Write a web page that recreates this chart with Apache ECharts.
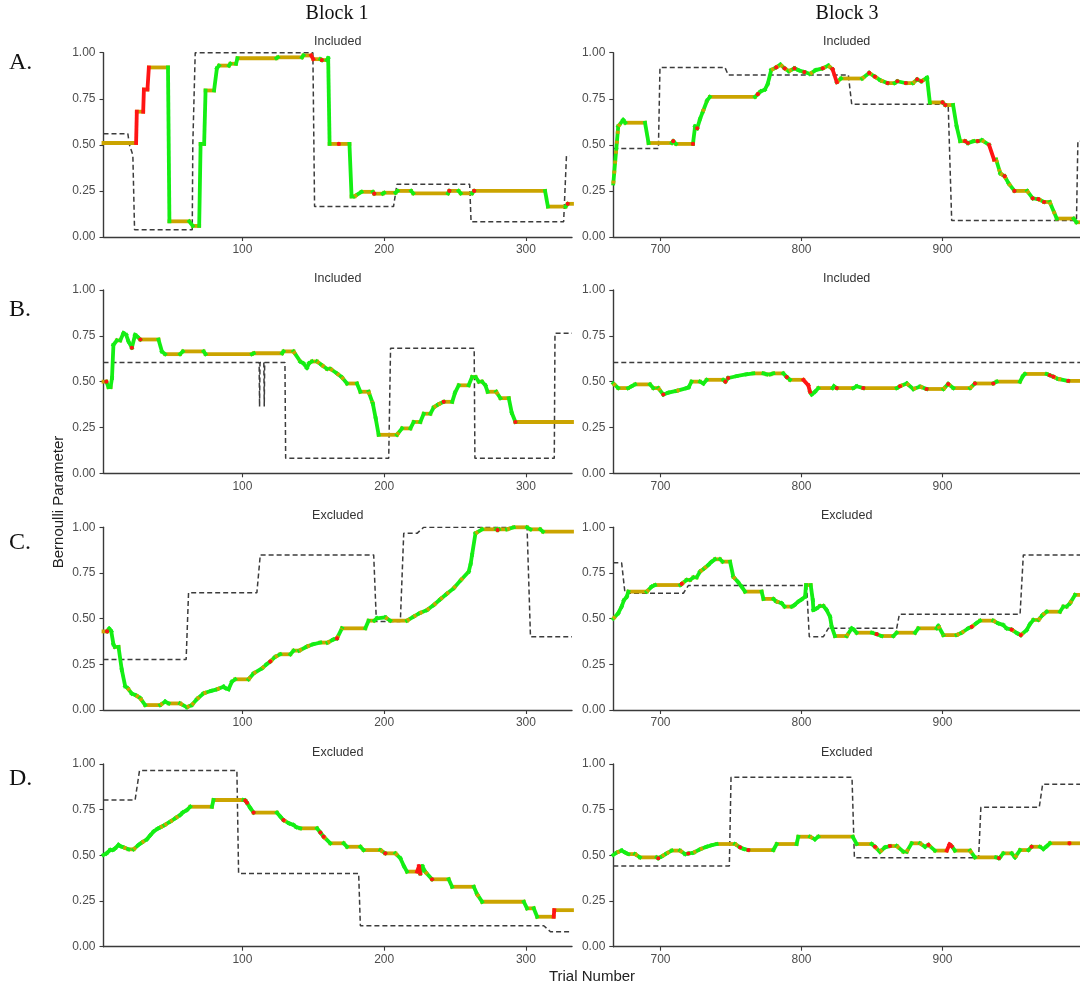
<!DOCTYPE html>
<html><head><meta charset="utf-8">
<script src="https://cdn.jsdelivr.net/npm/echarts@6/dist/echarts.min.js"></script>
<style>html,body{margin:0;padding:0;background:#fff}#chart{width:1080px;height:989px}</style>
</head><body><div id="chart"></div>
<script>
// ---------- data ----------
const colTitles = ['Block 1', 'Block 3'];
const rowLabels = ['A.', 'B.', 'C.', 'D.'];
const stripLabels = ['Included', 'Included', 'Excluded', 'Excluded'];
const yTickValues = [0, 0.25, 0.5, 0.75, 1];
const xTicksBlock1 = [100, 200, 300];
const xTicksBlock3 = [700, 800, 900];
const xRangeBlock1 = [2, 332.5];
const xRangeBlock3 = [666.5, 997.5];
const yAxisTitle = 'Bernoulli Parameter';
const xAxisTitle = 'Trial Number';

// Estimated Bernoulli parameter (step path). [trial, value, flag]
// flag 'r' = red segment leading to this point, 'd' = red mark at this point
const estA1 = [[2,0.51],[25,0.51],[25.5,0.68,'r'],[30,0.68],[30.5,0.80,'r'],[33,0.80],[34,0.92,'r'],[47.5,0.92],[48.5,0.085],[62.5,0.085],[65,0.06],[69.5,0.06],[70.5,0.505],[73,0.505],[74,0.795],[80,0.795],[82,0.915],[83.5,0.93],[90.5,0.93],[91.5,0.94],[95.5,0.94],[96.5,0.97],[124,0.97],[125,0.975],[142,0.975],[143,0.985],[148.5,0.985],[150,0.965,'r'],[155,0.965],[156,0.96,'d'],[159.5,0.96],[160.5,0.97],[161.5,0.505],[168,0.505,'d'],[175.5,0.505],[177,0.22],[179,0.22],[184,0.245],[192,0.245],[193,0.235,'d'],[199,0.235],[200,0.24],[208,0.24],[209.5,0.25],[219,0.25],[220.5,0.237],[245,0.237],[246,0.25,'d'],[252.5,0.25],[254,0.237],[262,0.237],[263.5,0.25,'d'],[313.5,0.25],[315.5,0.165],[328,0.165],[329.5,0.18,'d'],[332.5,0.18]];
const estA3 = [[666.5,0.29],[670,0.60],[673.5,0.635],[675,0.62],[689,0.62],[691.5,0.51],[708,0.51],[709,0.52,'d'],[711,0.505],[723,0.505,'d'],[724.5,0.60],[726,0.59,'d'],[728,0.64],[730,0.68],[733,0.74],[735,0.76],[767,0.76],[769,0.775,'d'],[771,0.79],[774,0.80],[776,0.83],[778.5,0.906],[782,0.92,'d'],[785,0.935],[788,0.915,'d'],[791,0.90],[795,0.915,'d'],[798,0.905],[802,0.895,'d'],[806,0.885],[810,0.905],[815,0.915,'d'],[819,0.93],[822,0.91,'d'],[825,0.84,'r'],[828,0.86],[843,0.86],[848,0.89,'d'],[852,0.87,'d'],[856,0.85],[861,0.835,'d'],[866,0.835],[868,0.845,'d'],[874,0.835,'d'],[879,0.835],[882,0.855,'d'],[885,0.845,'d'],[889,0.865],[891,0.73],[900,0.73,'d'],[902,0.716,'d'],[907.5,0.716],[910,0.60],[912.5,0.52],[916,0.52,'d'],[918,0.51,'d'],[922,0.52],[925,0.52,'d'],[928,0.525],[933,0.50],[936.5,0.42,'r'],[938,0.42],[941,0.345],[944,0.33,'d'],[947,0.29],[951,0.25,'d'],[960,0.25],[964,0.21,'d'],[968,0.205,'d'],[972,0.19,'d'],[976,0.19],[981,0.10],[993,0.10],[995,0.08],[997.5,0.08]];
const estB1 = [[2,0.50],[4,0.50,'d'],[5.5,0.47],[7,0.47],[8,0.52],[9,0.70],[11.4,0.725],[13.8,0.725],[16.1,0.765],[18,0.755],[19.6,0.72],[22,0.685,'d'],[24.3,0.755],[26,0.745],[28,0.73,'d'],[40.8,0.73],[43.2,0.665],[45.5,0.65],[56,0.65],[58,0.665],[72.6,0.665],[74,0.65],[106.7,0.65],[108,0.655],[128,0.655],[129,0.665],[136,0.665],[140.8,0.61],[143,0.60],[145.5,0.575],[147,0.60],[149,0.61],[152.6,0.61],[156,0.59],[159.6,0.57],[162,0.57],[166.7,0.545],[170,0.525],[173.8,0.49],[180.8,0.49],[183.2,0.445],[189,0.445],[192,0.38],[194,0.30],[196.1,0.21],[209,0.21],[212.6,0.245],[218.5,0.245],[220.8,0.28],[225.5,0.28],[227.9,0.325],[232.6,0.325],[235,0.36],[238,0.375],[242,0.39,'d'],[248,0.39],[250,0.44],[252.6,0.48],[259.6,0.48],[262,0.525],[264.5,0.525],[266.7,0.50],[269,0.50],[271.4,0.48],[273,0.445],[279,0.445],[282,0.41],[287.9,0.41],[290,0.33],[292.6,0.28,'d'],[332.5,0.28]];
const estB3 = [[666.5,0.49],[670,0.465],[677,0.465],[679.5,0.475],[682,0.485],[692.5,0.485],[694.9,0.465],[698.4,0.465],[702,0.43,'d'],[705.5,0.44],[711.4,0.45],[718.5,0.465],[720,0.47],[722,0.50],[728,0.50],[730.4,0.49],[732.7,0.51],[744.5,0.51],[746,0.50,'d'],[748,0.52,'d'],[754,0.53],[761,0.54],[765.8,0.545],[773,0.545],[775.3,0.54],[778,0.54],[780,0.545],[787,0.545],[789.5,0.525,'d'],[791.8,0.51],[801.3,0.51],[804.8,0.48,'r'],[806,0.445,'r'],[807.2,0.43],[809.5,0.445],[811.9,0.465],[822,0.465],[823,0.475],[825,0.465,'d'],[836.7,0.465],[839.1,0.475],[843.8,0.465,'d'],[867.5,0.465],[869.8,0.475,'d'],[874.6,0.49],[879.3,0.46],[884,0.473],[888.7,0.46,'d'],[900.6,0.46],[904,0.487,'d'],[907.7,0.465],[919.5,0.465],[923,0.49,'d'],[936,0.49,'d'],[938.4,0.50],[954.9,0.50],[957,0.53],[958.5,0.542],[973.9,0.542],[976,0.535,'d'],[978.6,0.527,'d'],[982,0.515],[989.2,0.504,'d'],[997.5,0.504]];
const estC1 = [[2,0.43],[4.5,0.43,'d'],[6,0.445],[7.5,0.43],[9,0.36],[10,0.345],[12.6,0.345],[14.9,0.22],[17.3,0.13],[19,0.12],[22,0.09],[25,0.08],[27.9,0.065],[31.4,0.027],[42,0.027],[45.5,0.046],[48,0.036],[56,0.036],[60.8,0.015],[64.3,0.027],[68,0.06],[72.6,0.091],[78,0.105],[82,0.113],[86.7,0.128],[88,0.12],[90.2,0.113],[92.6,0.155],[94.9,0.168],[104.3,0.168],[107.9,0.20],[113.8,0.228],[117,0.25],[119.6,0.265,'d'],[123,0.29],[126.7,0.305],[133.8,0.305],[136.1,0.325],[140,0.325],[145.5,0.347],[150,0.36],[154.9,0.369],[160,0.369],[164,0.385],[166.7,0.392,'d'],[170.2,0.447],[186.7,0.447],[189,0.489],[193,0.489],[194.9,0.502],[200.8,0.507],[204.3,0.489],[216.1,0.489],[220.8,0.511],[225,0.53],[230.2,0.547],[235,0.575],[239.6,0.606],[244,0.635],[249,0.666],[254,0.71],[259.6,0.757],[261,0.80],[262,0.849],[264.4,0.967],[269.1,0.989],[279,0.989],[280,0.985,'d'],[281,0.989],[286.7,0.989],[291.4,1.0],[300.8,1.0],[303.2,0.989],[310,0.989],[312,0.976],[332.5,0.976]];
const estC3 = [[666.5,0.50],[670,0.53],[672.4,0.566],[674,0.60],[676,0.62],[677.2,0.648],[690.2,0.648],[693.7,0.675],[696.1,0.684],[714,0.684],[715,0.69,'d'],[718.5,0.712],[721,0.712],[723.3,0.726],[725.6,0.726],[728,0.757],[731,0.775],[733.9,0.794],[736,0.81],[738.6,0.825],[742.2,0.825],[744,0.812],[749.3,0.812],[751.6,0.73],[755,0.70],[757.5,0.675],[759.9,0.648],[771.7,0.648],[773,0.608],[780,0.608],[782,0.595],[785.9,0.584],[788,0.566],[793,0.566],[795,0.575],[797.7,0.593],[800,0.605],[802.5,0.62],[803.2,0.684],[806.5,0.684],[808,0.60],[808.4,0.547],[810.7,0.556],[813,0.569],[815.5,0.569],[817.8,0.547],[820.2,0.511],[821.4,0.456],[823.7,0.405],[832,0.405],[835.6,0.447],[837,0.44],[839.1,0.423],[850,0.423],[853.3,0.415,'d'],[856.8,0.405],[865.1,0.405],[867.5,0.423],[880.5,0.423],[882.8,0.447],[895.8,0.447],[897,0.46],[900.6,0.41],[910,0.41],[913.6,0.423],[918.3,0.447],[920.7,0.455,'d'],[924,0.475],[926.6,0.489],[936,0.489],[939.6,0.474],[943,0.465],[945.5,0.447],[949,0.44,'d'],[953,0.42],[955.5,0.41,'d'],[959.7,0.438],[962,0.47],[964.4,0.493],[968,0.493],[971,0.52],[973.9,0.538],[983.3,0.538],[985.7,0.566],[988,0.566],[990.4,0.584],[994,0.63],[997.5,0.63]];
const estD1 = [[2,0.502],[4,0.51],[6.7,0.529],[8.5,0.53],[10.2,0.538],[12.6,0.557],[14,0.55],[16.1,0.544],[19.6,0.533],[23.2,0.533],[26.7,0.557],[29,0.57],[32.6,0.588],[35,0.61],[37.3,0.63],[40,0.645],[42,0.653],[45,0.665],[49,0.684],[53,0.705],[56.1,0.721],[58,0.735],[60.8,0.748],[63.2,0.766],[78.5,0.766],[79.6,0.803],[100.8,0.803],[102,0.80,'d'],[103.2,0.788,'d'],[105.5,0.76],[107.9,0.734,'d'],[124.3,0.734],[127,0.71],[129,0.693,'d'],[133,0.675],[136.1,0.666],[138,0.655],[140.8,0.648],[152.6,0.648],[155,0.625,'d'],[157.3,0.602,'d'],[162,0.566],[171.4,0.566],[173.8,0.547],[183.2,0.547],[185.5,0.529],[197.3,0.529],[200.8,0.511,'d'],[207.9,0.511],[211.4,0.484],[214,0.44],[216.1,0.411],[223.2,0.411],[224.5,0.44,'r'],[225.5,0.40,'r'],[227,0.44],[229,0.41],[233.8,0.369,'d'],[245.5,0.369],[247.9,0.328],[263.2,0.328],[265.5,0.288],[269.1,0.246],[298.5,0.246],[300.8,0.21],[305.5,0.21],[307.9,0.164],[319.6,0.164],[320,0.20,'r'],[332.5,0.20]];
const estD3 = [[666.5,0.502],[669,0.515],[672.4,0.526],[675,0.515],[677.2,0.507],[681.9,0.507],[685.4,0.489],[697.3,0.489],[698.4,0.484,'d'],[701,0.495],[704.3,0.511],[707.9,0.526],[713.8,0.526],[717.4,0.507],[719.7,0.51,'d'],[723.3,0.515],[728,0.533],[732.7,0.547],[736,0.555],[739.8,0.562],[752.8,0.562],[756.4,0.544,'d'],[759,0.535],[762.3,0.529,'d'],[780,0.529],[782.4,0.562],[796.5,0.562],[797.7,0.602],[806,0.602],[809.5,0.588],[811.9,0.602],[836.3,0.602],[839.1,0.562],[849.7,0.562],[852.1,0.547,'d'],[855.6,0.52],[859.2,0.544],[862.7,0.551,'d'],[867.5,0.551],[872.2,0.52],[874.6,0.52],[878.1,0.566],[884,0.566],[887.6,0.547],[890,0.557,'d'],[894.6,0.526],[903,0.526],[905,0.56,'r'],[906.5,0.55,'r'],[908.8,0.526],[919.5,0.526],[923,0.489],[938,0.489],[940,0.485,'d'],[940.7,0.489],[943.1,0.511],[949,0.511],[951.4,0.489],[955,0.529],[960.9,0.529],[963.2,0.547,'d'],[969.1,0.547],[971.5,0.535],[973.9,0.55],[976.2,0.566],[990,0.566,'d'],[997.5,0.566]];

// True (generative) parameter, dashed line
const trueA1 = [[2,0.56],[19.2,0.56],[20.3,0.50],[22.7,0.445],[23.9,0.04],[64.6,0.04],[65,0.50],[66.7,1.0],[149.7,1.0],[150.9,0.165],[206.6,0.165],[209,0.286],[260.3,0.286],[261.3,0.083],[326.6,0.083],[328.6,0.441],[330.5,0.441]];
const trueA3 = [[666.5,0.48],[698.5,0.48],[699.6,0.92],[745.7,0.92],[748,0.879],[833.2,0.879],[835.6,0.72],[904,0.72],[906.5,0.089],[995,0.089],[996,0.52],[997.5,0.52]];
const trueB1 = [[2,0.605],[111.8,0.605],[112.1,0.364],[112.4,0.605],[115.1,0.605],[115.4,0.364],[115.7,0.605],[130,0.605],[130.5,0.082],[203.2,0.082],[204.5,0.682],[263.5,0.682],[264,0.082],[320,0.082],[320.5,0.764],[332.5,0.764]];
const trueB3 = [[666.5,0.605],[997.5,0.605]];
const trueC1 = [[2,0.277],[60.3,0.277],[62,0.642],[110.2,0.642],[112.6,0.849],[192.6,0.849],[194.5,0.484],[211.4,0.484],[213.8,0.967],[223.2,0.967],[227.9,1.0],[300.8,1.0],[303.2,0.401],[332.5,0.401]];
const trueC3 = [[666.5,0.806],[672.4,0.806],[674.8,0.639],[716.2,0.639],[719.7,0.681],[803.6,0.681],[805.5,0.401],[815.5,0.401],[819,0.447],[867.5,0.447],[869.4,0.524],[955,0.524],[957.3,0.849],[997.5,0.849]];
const trueD1 = [[2,0.803],[24.3,0.803],[27.4,0.964],[96.1,0.964],[97.3,0.401],[182,0.401],[183.2,0.115],[312.6,0.115],[317.3,0.082],[332.5,0.082]];
const trueD3 = [[666.5,0.442],[748.8,0.442],[750,0.927],[835.8,0.927],[837.5,0.487],[925.6,0.487],[927.2,0.763],[968.6,0.763],[971,0.889],[997.5,0.889]];

const estimates = [estA1, estA3, estB1, estB3, estC1, estC3, estD1, estD3];
const truths = [trueA1, trueA3, trueB1, trueB3, trueC1, trueC3, trueD1, trueD3];

// ---------- layout / style ----------
const GOLD = '#CBA400', GREEN = '#14EE14', RED = '#FF1414';
const SEG_COLORS = [GOLD, GREEN, RED, RED];
const rowTops = [52.7, 290, 527.3, 764];
const rowHeights = [184.3, 183.3, 182.7, 182.7];
const colLefts = [103.5, 613.3];
const colWidths = [468.5, 466.7];
const rowLabelY = [63, 310, 543, 779];
const AX = '#3a3a3a', TXT = '#4d4d4d';
const sans = '"Liberation Sans", Arial, sans-serif';
const serif = '"Liberation Serif", "Times New Roman", serif';

function makeSegs(pts) {
  const segs = [], dots = [];
  for (let i = 1; i < pts.length; i++) {
    const a = pts[i - 1], b = pts[i];
    const c = b[2] === 'r' ? 2 : (a[1] === b[1] ? 0 : 1);
    segs.push([a[0], a[1], b[0], b[1], c]);
    if (b[2] === 'd') dots.push([b[0], b[1], b[0], b[1], 3]);
  }
  segs.sort((p, q) => p[4] - q[4]);
  return segs.concat(dots);
}

const grids = [], xAxes = [], yAxes = [], series = [], graphics = [];
for (let r = 0; r < 4; r++) {
  for (let c = 0; c < 2; c++) {
    const i = r * 2 + c;
    grids.push({ left: colLefts[c], top: rowTops[r], width: colWidths[c], height: rowHeights[r], containLabel: false, outerBoundsMode: 'none' });
    const rng = c === 0 ? xRangeBlock1 : xRangeBlock3;
    const tks = c === 0 ? xTicksBlock1 : xTicksBlock3;
    xAxes.push({
      type: 'value', gridIndex: i, min: rng[0], max: rng[1],
      axisLine: { show: true, onZero: false, lineStyle: { color: AX, width: 1.4 } },
      axisTick: { show: true, length: 4, customValues: tks, lineStyle: { color: AX, width: 1.1 } },
      axisLabel: { show: true, customValues: tks, margin: 7, color: TXT, fontSize: 12, fontFamily: sans },
      splitLine: { show: false }
    });
    yAxes.push({
      type: 'value', gridIndex: i, min: 0, max: 1, interval: 0.25,
      axisLine: { show: true, lineStyle: { color: AX, width: 1.4 } },
      axisTick: { show: true, length: 4, lineStyle: { color: AX, width: 1.1 } },
      axisLabel: { show: true, margin: 8, color: TXT, fontSize: 12, fontFamily: sans, formatter: v => v.toFixed(2) },
      splitLine: { show: false }
    });
    series.push({
      type: 'line', xAxisIndex: i, yAxisIndex: i, data: truths[i], symbol: 'none', silent: true,
      animation: false, z: 2,
      lineStyle: { color: '#3c3c3c', width: 1.5, type: [5, 3] }
    });
    const segs = makeSegs(estimates[i]);
    series.push({
      type: 'custom', xAxisIndex: i, yAxisIndex: i, data: segs, animation: false, z: 3, silent: true,
      encode: { x: [0, 2], y: [1, 3] },
      renderItem: function (params, api) {
        const p0 = api.coord([api.value(0), api.value(1)]);
        const p1 = api.coord([api.value(2), api.value(3)]);
        const k = api.value(4);
        if (k === 3) {
          return { type: 'circle', shape: { cx: p1[0], cy: p1[1], r: 2.1 }, style: { fill: RED } };
        }
        const shape = { x1: p0[0], y1: p0[1], x2: p1[0], y2: p1[1] };
        const base = { type: 'line', shape: shape,
          style: { stroke: SEG_COLORS[k], lineWidth: 3.8, lineCap: 'square', fill: null } };
        const dx = Math.abs(p1[0] - p0[0]), dy = Math.abs(p1[1] - p0[1]);
        if (k === 1 && dx > 4 && dy > 2) {
          // staircase texture of small level runs along a drifting estimate
          return { type: 'group', children: [base, { type: 'line', shape: shape,
            style: { stroke: GOLD, lineWidth: 3.8, lineCap: 'butt', lineDash: [3, 7], fill: null } }] };
        }
        return base;
      }
    });
    graphics.push({ type: 'text', x: colLefts[c] + colWidths[c] / 2, y: rowTops[r] - 11.5,
      style: { text: stripLabels[r], align: 'center', verticalAlign: 'middle', font: '12.5px ' + sans, fill: '#333' } });
  }
  graphics.push({ type: 'text', x: 9, y: rowLabelY[r],
    style: { text: rowLabels[r], align: 'left', verticalAlign: 'middle', font: '24px ' + serif, fill: '#111' } });
}
graphics.push({ type: 'text', x: 337, y: 14, style: { text: colTitles[0], align: 'center', verticalAlign: 'middle', font: '20px ' + serif, fill: '#111' } });
graphics.push({ type: 'text', x: 847, y: 14, style: { text: colTitles[1], align: 'center', verticalAlign: 'middle', font: '20px ' + serif, fill: '#111' } });
graphics.push({ type: 'text', x: 59, y: 502, rotation: Math.PI / 2, style: { text: yAxisTitle, align: 'center', verticalAlign: 'middle', font: '15px ' + sans, fill: '#222' } });
graphics.push({ type: 'text', x: 592, y: 977, style: { text: xAxisTitle, align: 'center', verticalAlign: 'middle', font: '15px ' + sans, fill: '#222' } });

const chart = echarts.init(document.getElementById('chart'), null, { renderer: 'canvas' });
chart.setOption({
  animation: false,
  backgroundColor: '#fff',
  grid: grids, xAxis: xAxes, yAxis: yAxes, series: series, graphic: graphics
});
</script></body></html>
